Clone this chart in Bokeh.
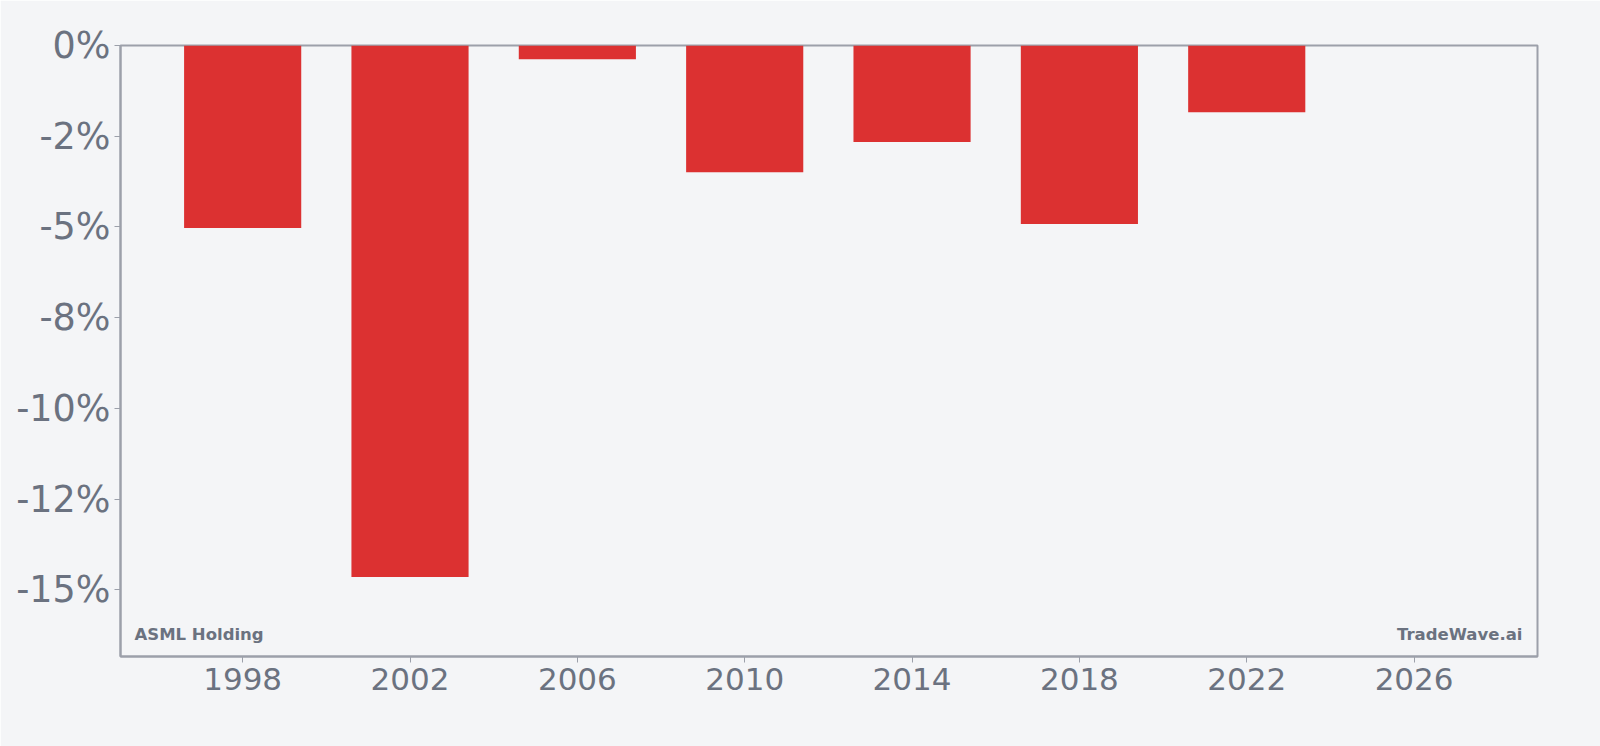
from bokeh.plotting import figure
from bokeh.models import FixedTicker, Range1d, Label
from bokeh.embed import file_html
from bokeh.resources import INLINE

years = [1998, 2002, 2006, 2010, 2014, 2018, 2022]
returns = [-5.03, -14.65, -0.38, -3.49, -2.66, -4.92, -1.84]
y_ticks = [0, -2.5, -5, -7.5, -10, -12.5, -15]
y_tick_labels = ["0%", "-2%", "-5%", "-8%", "-10%", "-12%", "-15%"]
x_ticks = [1998, 2002, 2006, 2010, 2014, 2018, 2022, 2026]

BG = "#f4f5f7"
GREY = "#6b7280"
LINE = "#9ca0aa"

p = figure(width=1600, height=746, output_backend="svg", toolbar_location=None,
           x_range=Range1d(1995.08, 2028.95), y_range=Range1d(-16.84, 0),
           min_border_left=120, min_border_right=63, min_border_top=45, min_border_bottom=90)
p.background_fill_color = BG
p.border_fill_color = BG
p.outline_line_color = LINE
p.outline_line_width = 2
p.grid.visible = False

p.vbar(x=years, top=0, bottom=returns, width=2.8, fill_color="#dc3131", line_color=None)

p.xaxis.ticker = FixedTicker(ticks=x_ticks)
p.yaxis.ticker = FixedTicker(ticks=y_ticks)
p.yaxis.major_label_overrides = {t: l for t, l in zip(y_ticks, y_tick_labels)}
for ax in (p.xaxis, p.yaxis):
    ax.axis_line_color = LINE
    ax.axis_line_width = 2
    ax.major_tick_line_color = LINE
    ax.major_tick_out = 6
    ax.major_tick_in = 0
    ax.minor_tick_line_color = None
    ax.major_label_text_color = GREY
    ax.major_label_text_font = "DejaVu Sans"
p.xaxis.major_label_text_font_size = "31px"
p.yaxis.major_label_text_font_size = "36.5px"
p.xaxis.major_label_standoff = 5
p.yaxis.major_label_standoff = 4

p.add_layout(Label(x=14, y=13, x_units="screen", y_units="screen", text="ASML Holding",
                   text_font="DejaVu Sans", text_font_style="bold", text_font_size="16.5px",
                   text_color=GREY))
p.add_layout(Label(x=1402, y=13, x_units="screen", y_units="screen", text="TradeWave.ai",
                   text_font="DejaVu Sans", text_font_style="bold", text_font_size="16.5px",
                   text_color=GREY, text_align="right"))

open("out.html", "w").write(file_html(p, INLINE))
